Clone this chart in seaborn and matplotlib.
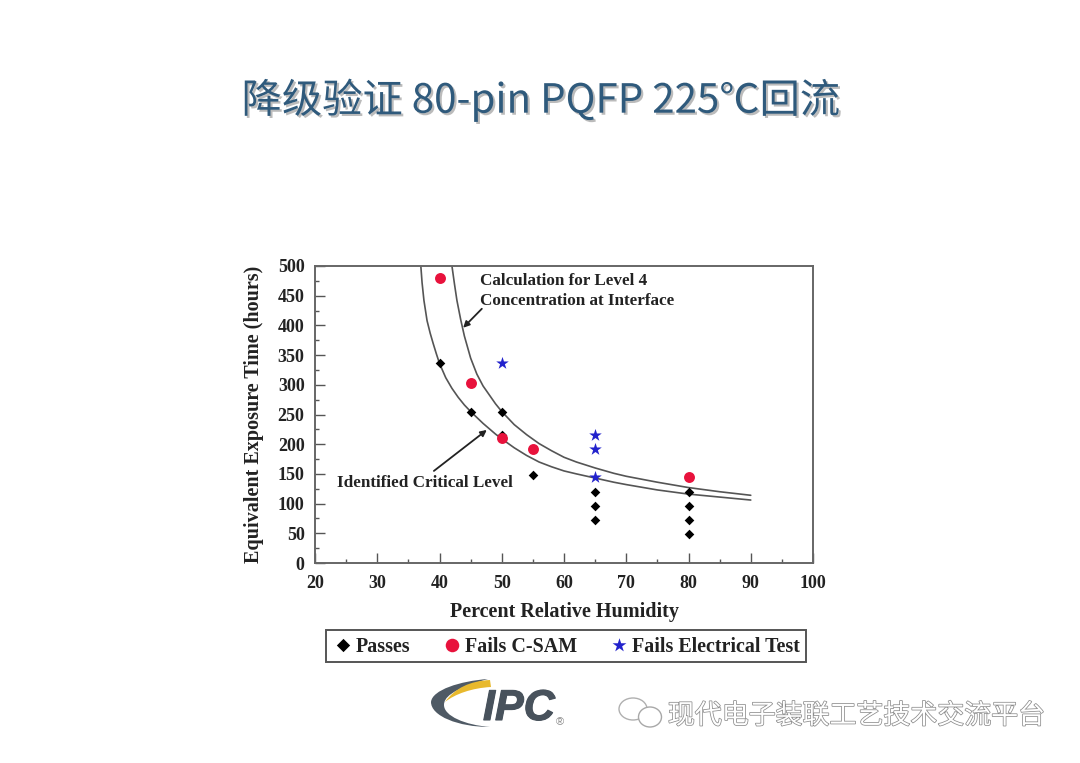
import matplotlib
matplotlib.use("Agg")
import matplotlib.patheffects as pe
import matplotlib.pyplot as plt
import pandas as pd
import seaborn as sns
from matplotlib.patches import Ellipse, PathPatch
from matplotlib.path import Path
from matplotlib.ticker import MultipleLocator

TITLE = "降级验证 80-pin PQFP 225℃回流"
X_LABEL = "Percent Relative Humidity"
Y_LABEL = "Equivalent Exposure Time (hours)"

critical_rh = [37, 37.2, 37.5, 38, 38.5, 39, 39.5, 40, 41, 42, 43, 44, 45, 46, 47, 48, 49, 50,
               52, 54, 56, 58, 60, 62, 65, 68, 70, 75, 80, 85, 90]
critical_hours = [500, 472, 442, 408, 387, 369, 352, 336, 312, 294, 279, 266, 255, 245, 235, 226, 217, 209,
                  194, 181, 170, 162, 155, 150, 143, 136, 132, 123, 116, 111, 106]
level4_rh = [42, 42.4, 42.8, 43.4, 44, 45, 46, 47, 48, 49, 50,
             52, 54, 56, 58, 60, 62, 65, 68, 70, 75, 80, 85, 90]
level4_hours = [500, 470, 442, 410, 382, 345, 318, 298, 283, 268, 255,
                233, 216, 201, 189, 178, 170, 160, 151, 146, 136, 127, 120, 114]

pass_rh = [40, 45, 50, 50, 55, 65, 65, 65, 80, 80, 80, 80]
pass_hours = [336, 255, 255, 216, 148, 120, 96, 72, 120, 96, 72, 48]
csam_rh = [40, 45, 50, 55, 80]
csam_hours = [480, 303, 210, 192, 144]
elec_rh = [50, 65, 65, 65]
elec_hours = [336, 216, 192, 144]

sns.set_style("white")
plt.rcParams["font.family"] = ["Liberation Serif", "DejaVu Serif"]
CJK = ["Noto Sans CJK SC", "DejaVu Sans"]
W, H = 1080, 763
INK = "#222222"

fig = plt.figure(figsize=(10.8, 7.63), dpi=100, facecolor="white")
ax = fig.add_axes([315 / W, 1 - 563 / H, 498 / W, 297 / H])

curves = pd.DataFrame({
    "rh": critical_rh + level4_rh,
    "hours": critical_hours + level4_hours,
    "curve": ["critical"] * len(critical_rh) + ["level4"] * len(level4_rh),
})
sns.lineplot(data=curves, x="rh", y="hours", hue="curve", palette=["#555555", "#555555"],
             linewidth=1.2, sort=False, estimator=None, legend=False, ax=ax)

sns.scatterplot(x=pass_rh, y=pass_hours, marker="D", color="black", s=24, linewidth=0,
                label="Passes", ax=ax, zorder=3)
sns.scatterplot(x=csam_rh, y=csam_hours, marker="o", color="#e8123c", s=62, linewidth=0,
                label="Fails C-SAM", ax=ax, zorder=4)
sns.scatterplot(x=elec_rh, y=elec_hours, marker="*", color="#2222cc", s=90, linewidth=0,
                label="Fails Electrical Test", ax=ax, zorder=5)

ax.set_xlim(20, 100)
ax.set_ylim(0, 500)
ax.xaxis.set_major_locator(MultipleLocator(10))
ax.xaxis.set_minor_locator(MultipleLocator(5))
ax.yaxis.set_major_locator(MultipleLocator(50))
ax.yaxis.set_minor_locator(MultipleLocator(25))
ax.tick_params(which="major", direction="in", length=7, width=1, color="#555555", bottom=True, left=True,
               labelsize=13, labelcolor=INK)
ax.tick_params(which="minor", direction="in", length=3, width=1, color="#555555", bottom=True, left=True)
ax.tick_params(axis="x", which="major", pad=9)
ax.tick_params(axis="y", which="major", pad=7.5)
for lab in ax.get_xticklabels() + ax.get_yticklabels():
    lab.set_fontweight("bold")
for s in ax.spines.values():
    s.set_color("#666666")
    s.set_linewidth(1.4)
ax.set_xlabel(X_LABEL, fontsize=14.5, fontweight="bold", color=INK, labelpad=7)
ax.set_ylabel(Y_LABEL, fontsize=14.5, fontweight="bold", color=INK, labelpad=10)

# annotations inside the plot
ax.text(46.5, 475, "Calculation for Level 4", fontsize=12.3, fontweight="bold", color=INK, va="center")
ax.text(46.5, 441, "Concentration at Interface", fontsize=12.3, fontweight="bold", color=INK, va="center")
ax.text(23.5, 135, "Identified Critical Level", fontsize=12.3, fontweight="bold", color=INK, va="center")
arrow = dict(arrowstyle="-|>", color="#222222", lw=1.3, mutation_scale=9, shrinkA=0, shrinkB=0)
ax.annotate("", xy=(43.8, 396), xytext=(46.8, 428), arrowprops=arrow)
ax.annotate("", xy=(47.6, 224), xytext=(39.1, 155), arrowprops=arrow)

leg = ax.legend(loc="center", bbox_to_anchor=(566 / W, 1 - 645.5 / H), bbox_transform=fig.transFigure, ncol=3,
                frameon=True, fancybox=False, edgecolor="#555555", facecolor="white", framealpha=1,
                prop={"size": 14.4, "weight": "bold"}, labelcolor=INK, handletextpad=0.1,
                columnspacing=1.55, borderpad=0.3, handlelength=1.1)
leg.get_frame().set_linewidth(1.4)
for handle, size in zip(leg.legend_handles, [46, 95, 110]):
    handle.set_sizes([size])
for t in leg.get_texts():
    t.set_y(-2)

fig.text(541 / W, 1 - 100 / H, TITLE, fontsize=29, color="#2f5a7c", ha="center", va="center", family=CJK,
         path_effects=[pe.withSimplePatchShadow(offset=(1.5, -1.5), shadow_rgbFace="#8f8f8f", alpha=0.6)])

# pixel overlay for the logo and the watermark
over = fig.add_axes([0, 0, 1, 1], facecolor="none")
over.set_xlim(0, W)
over.set_ylim(H, 0)
over.axis("off")

grey_arc = Path([(488, 679), (460, 681), (432, 690), (431, 702), (431, 716), (458, 727), (490, 727),
                 (465, 725), (444, 716), (444, 705), (444, 698), (450, 690), (488, 679)],
                [1, 4, 4, 4, 4, 4, 4, 4, 4, 4, 4, 4, 4])
over.add_patch(PathPatch(grey_arc, fc="#4f5a65", ec="none"))
gold_arc = Path([(490, 680), (470, 681), (455, 688), (445, 702), (455, 694), (472, 688), (491, 687), (490, 680)],
                [1, 4, 4, 4, 4, 4, 4, 2])
over.add_patch(PathPatch(gold_arc, fc="#e8b92d", ec="none"))
over.text(483, 720, "IPC", fontsize=31, fontweight="bold", style="italic", family="Liberation Sans",
          color="#48525c", va="baseline", ha="left",
          path_effects=[pe.withStroke(linewidth=0.8, foreground="#48525c")])
over.text(560, 722, "®", fontsize=8, family="Liberation Sans", color="#888888", va="center", ha="center")

# wechat style icon
over.add_patch(Ellipse((633, 709), 28, 22, fc="white", ec="#b0b0b0", lw=1.0))
over.add_patch(Ellipse((650, 717), 23, 20, fc="white", ec="#a8a8a8", lw=1.0))
over.text(856, 716, "现代电子装联工艺技术交流平台", fontsize=19.4, color="white", family=CJK, ha="center", va="center",
          path_effects=[pe.withStroke(linewidth=1.1, foreground="#8c8c8c")])

fig.savefig("out.png", dpi=100)
